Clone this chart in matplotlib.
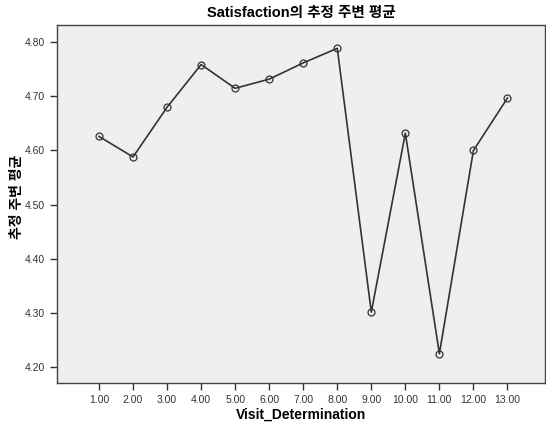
import matplotlib
matplotlib.use('Agg')
import matplotlib.pyplot as plt

plt.rcParams['font.family'] = ['Liberation Sans', 'Noto Sans CJK KR', 'DejaVu Sans']

# Estimated marginal means
visits = [1, 2, 3, 4, 5, 6, 7, 8, 9, 10, 11, 12, 13]
tick_labels = ['%.2f' % v for v in visits]
means = [4.626, 4.588, 4.680, 4.759, 4.715, 4.732, 4.762, 4.789,
         4.301, 4.632, 4.224, 4.600, 4.697]

fig = plt.figure(figsize=(5.46, 4.25), dpi=100)
ax = fig.add_axes([0.104, 0.099, 0.894, 0.842])
ax.set_facecolor('#EFEFEF')

ax.plot(visits, means, color='#333333', linewidth=1.2,
        marker='o', markersize=5, markerfacecolor='none',
        markeredgecolor='#333333', markeredgewidth=0.9)

ax.set_xlim(-0.24, 14.1)
ax.set_ylim(4.170, 4.832)
ax.set_xticks(visits)
ax.set_xticklabels(tick_labels)
ax.set_yticks([4.2, 4.3, 4.4, 4.5, 4.6, 4.7, 4.8])
ax.set_yticklabels(['4.20', '4.30', '4.40', '4.50', '4.60', '4.70', '4.80'])
ax.tick_params(direction='out', length=5, width=1, colors='#333333',
               labelsize=7.5, labelcolor='#333333')

for s in ax.spines.values():
    s.set_color('#444444')
    s.set_linewidth(1.0)

ax.set_title('Satisfaction의 추정 주변 평균', fontsize=10.5, fontweight='bold', pad=6)
ax.set_xlabel('Visit_Determination', fontsize=10, fontweight='bold')
ax.set_ylabel('추정 주변 평균', fontsize=10, fontweight='bold')
ax.xaxis.set_label_coords(0.5, -0.07)
ax.yaxis.set_label_coords(-0.068, 0.52)

fig.savefig('out.png', dpi=100)
